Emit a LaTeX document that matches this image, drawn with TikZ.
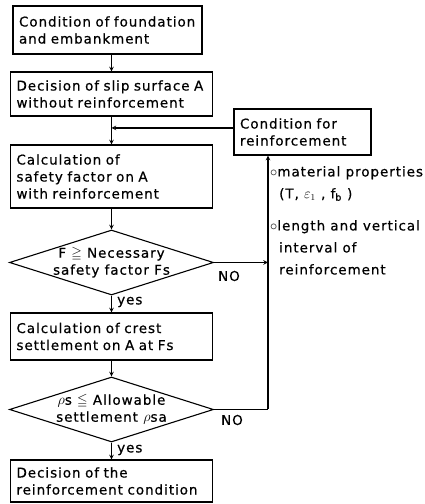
\documentclass[tikz,border=0pt]{standalone}
\usepackage{amssymb}
\usepackage{fontspec}
\setmainfont[LetterSpace=7, FakeBold=0.6]{DejaVu Sans}
\usetikzlibrary{shapes.geometric}

\begin{document}
\begin{tikzpicture}[x=1pt, y=1pt,
        font=\fontsize{13.5}{17}\selectfont,
        proc/.style={rectangle, draw=black, line width=1.1pt, align=left, inner xsep=6pt, inner ysep=2pt, text width=190pt},
        decision/.style={diamond, draw=black, line width=1.1pt, inner sep=0pt, minimum width=204pt, minimum height=65pt},
        dlabel/.style={align=center, inner sep=0pt},
        note/.style={align=left, anchor=north west, inner sep=0pt, font=\fontsize{13.5}{22}\selectfont},
        flow/.style={->, >=stealth, line width=1.1pt}
    ]
        \useasboundingbox (0,0) rectangle (424,504);

        % Main column
        \node[proc, text width=177pt, minimum height=48pt] (found) at (107.5,474) {Condition of foundation\\and embankment};
        \node[proc, minimum height=44pt] (slip) at (111.5,410) {Decision of slip surface A\\without reinforcement};
        \node[proc, minimum height=63pt] (safety) at (111.5,327.5) {Calculation of\\safety factor on A\\with reinforcement};
        \node[decision] (checkF) at (111.5,241.5) {};
        \node[dlabel] (checkFtext) at (111.5,241.5) {F $\geqq$ Necessary\\safety factor Fs};
        \node[proc, minimum height=47pt] (crest) at (111.5,167.5) {Calculation of crest\\settlement on A at Fs};
        \node[decision] (checkS) at (111.5,94.5) {};
        \node[dlabel] (checkStext) at (111.5,94.5) {$\rho$s $\leqq$ Allowable\\settlement $\rho$sa};
        \node[proc, minimum height=42pt] (final) at (111.5,23) {Decision of the\\reinforcement condition};

        % Side box
        \node[proc, text width=125pt, minimum height=46pt] (cond) at (302.5,372) {Condition for\\reinforcement};

        % Labels
        \node[anchor=west, inner sep=1pt] (yes1) at (116,202) {yes};
        \node[anchor=west, inner sep=1pt] (yes2) at (116,54) {yes};
        \node[inner sep=1pt] (no1) at (229,228) {NO};
        \node[inner sep=1pt] (no2) at (232,84) {NO};
        \node[note] (props) at (270,338) {$\circ$material properties\\\hspace*{9pt}(T, $\varepsilon_{1}$ , f$_{\mathrm{b}}$ )};
        \node[note] (sizes) at (270,284) {$\circ$length and vertical\\\hspace*{9pt}interval of\\\hspace*{9pt}reinforcement};

        % Joints
        \coordinate (join) at (111.5,376);
        \coordinate (riser) at (268,94.5);

        % Edges
        \draw[flow] (found.south -| slip.north) -- (slip.north);
        \draw[flow] (slip) -- (safety);
        \draw[flow] (safety) -- (checkF);
        \draw[flow] (checkF) -- (crest);
        \draw[flow] (crest) -- (checkS);
        \draw[flow] (checkS) -- (final);
        \draw[flow] ([yshift=4pt]cond.west) -- (join);
        \draw[flow] (checkF.east) -- (checkF.east -| riser);
        \draw[line width=1.1pt] (checkS.east) -- (riser);
        \draw[flow] (riser) -- (riser |- cond.south);

    \end{tikzpicture}
\end{document}
